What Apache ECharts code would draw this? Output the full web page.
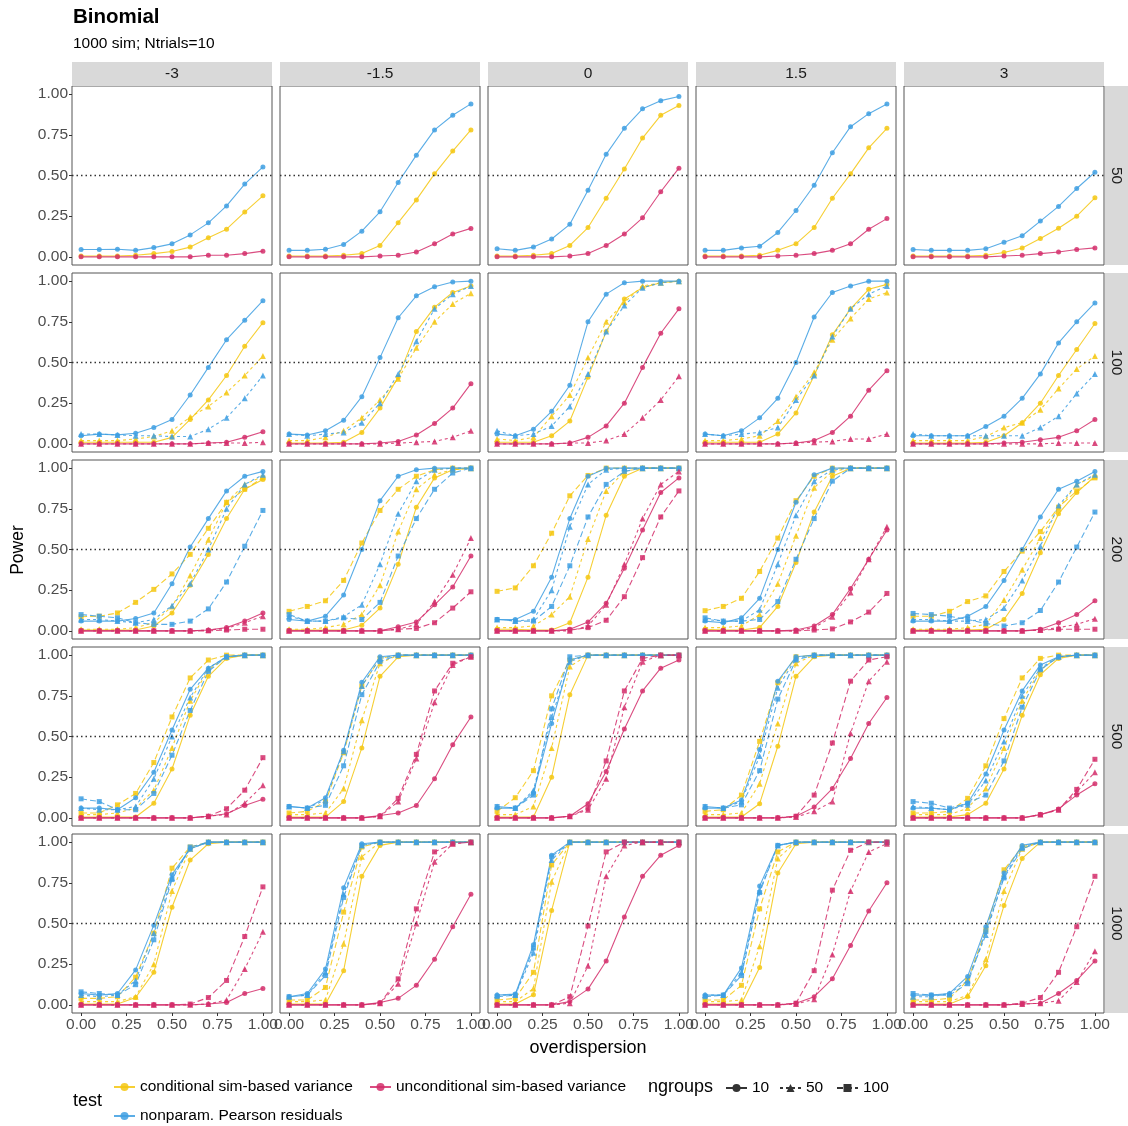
<!DOCTYPE html>
<html>
<head>
<meta charset="utf-8">
<script src="https://cdn.jsdelivr.net/npm/echarts@6/dist/echarts.min.js"></script>
<style>
html, body { margin: 0; padding: 0; background: #fff; }
#chart { width: 1128px; height: 1126px; }
</style>
</head>
<body>
<div id="chart"></div>
<script>
// x values of every curve, facet levels
const overdispersion = [0, 0.1, 0.2, 0.3, 0.4, 0.5, 0.6, 0.7, 0.8, 0.9, 1.0]
const thetaLevels = ['-3', '-1.5', '0', '1.5', '3']
const nLevels = ['50', '100', '200', '500', '1000']
const tickValues = [0, 0.25, 0.5, 0.75, 1]

// each array: one list of power values per column (theta = -3, -1.5, 0, 1.5, 3)
// ---- n = 50
const cond_g10_n50 = [
  [0.005, 0.005, 0.005, 0.01, 0.02, 0.033, 0.06, 0.117, 0.17, 0.275, 0.375],
  [0.005, 0.005, 0.005, 0.01, 0.02, 0.07, 0.21, 0.35, 0.51, 0.65, 0.78],
  [0.005, 0.005, 0.01, 0.02, 0.07, 0.18, 0.36, 0.54, 0.73, 0.87, 0.93],
  [0.005, 0.005, 0.005, 0.01, 0.04, 0.08, 0.18, 0.36, 0.51, 0.67, 0.79],
  [0.005, 0.005, 0.005, 0.005, 0.01, 0.027, 0.055, 0.113, 0.176, 0.25, 0.363]
]
const uncond_g10_n50 = [
  [0, 0, 0, 0, 0, 0, 0, 0.01, 0.01, 0.02, 0.035],
  [0, 0, 0, 0, 0, 0.005, 0.01, 0.03, 0.08, 0.14, 0.175],
  [0, 0, 0, 0, 0.005, 0.02, 0.07, 0.14, 0.24, 0.4, 0.545],
  [0, 0, 0, 0, 0.005, 0.01, 0.02, 0.04, 0.08, 0.17, 0.235],
  [0, 0, 0, 0, 0, 0.005, 0.01, 0.02, 0.03, 0.045, 0.055]
]
const nonpar_g10_n50 = [
  [0.045, 0.045, 0.047, 0.04, 0.057, 0.08, 0.135, 0.209, 0.313, 0.447, 0.553],
  [0.04, 0.04, 0.047, 0.076, 0.158, 0.277, 0.457, 0.625, 0.78, 0.87, 0.94],
  [0.05, 0.04, 0.06, 0.11, 0.2, 0.41, 0.63, 0.79, 0.91, 0.96, 0.985],
  [0.04, 0.04, 0.055, 0.065, 0.15, 0.285, 0.44, 0.64, 0.8, 0.88, 0.94],
  [0.045, 0.04, 0.04, 0.04, 0.05, 0.09, 0.13, 0.22, 0.31, 0.42, 0.52]
]
// ---- n = 100
const cond_g10_n100 = [
  [0.01, 0.01, 0.01, 0.01, 0.01, 0.04, 0.15, 0.27, 0.42, 0.6, 0.745],
  [0.005, 0.005, 0.005, 0.01, 0.07, 0.22, 0.41, 0.69, 0.84, 0.93, 0.97],
  [0.01, 0.01, 0.01, 0.05, 0.14, 0.41, 0.69, 0.89, 0.96, 0.99, 1],
  [0.01, 0.01, 0.01, 0.01, 0.06, 0.19, 0.42, 0.67, 0.83, 0.95, 0.98],
  [0.005, 0.005, 0.005, 0.005, 0.01, 0.05, 0.13, 0.25, 0.42, 0.58, 0.74]
]
const cond_g50_n100 = [
  [0.02, 0.02, 0.02, 0.03, 0.045, 0.08, 0.165, 0.23, 0.315, 0.42, 0.54],
  [0.02, 0.02, 0.04, 0.08, 0.16, 0.27, 0.4, 0.59, 0.75, 0.86, 0.925],
  [0.03, 0.02, 0.04, 0.17, 0.3, 0.53, 0.75, 0.87, 0.97, 0.99, 1],
  [0.02, 0.02, 0.03, 0.05, 0.14, 0.29, 0.44, 0.64, 0.77, 0.89, 0.93],
  [0.02, 0.02, 0.02, 0.02, 0.045, 0.1, 0.13, 0.21, 0.34, 0.46, 0.54]
]
const uncond_g10_n100 = [
  [0, 0, 0, 0, 0, 0, 0, 0.005, 0.01, 0.04, 0.075],
  [0, 0, 0, 0, 0, 0.005, 0.015, 0.055, 0.125, 0.22, 0.37],
  [0, 0, 0, 0, 0.005, 0.04, 0.11, 0.25, 0.47, 0.68, 0.83],
  [0, 0, 0, 0, 0, 0.005, 0.02, 0.07, 0.17, 0.33, 0.45],
  [0, 0, 0, 0, 0, 0.005, 0.01, 0.025, 0.04, 0.08, 0.15]
]
const uncond_g50_n100 = [
  [0, 0, 0, 0, 0, 0, 0, 0.005, 0.005, 0.005, 0.01],
  [0, 0, 0, 0, 0, 0, 0.005, 0.01, 0.015, 0.04, 0.08],
  [0, 0, 0, 0, 0.005, 0.005, 0.02, 0.06, 0.16, 0.27, 0.415],
  [0, 0, 0, 0, 0, 0.005, 0.01, 0.015, 0.03, 0.03, 0.06],
  [0, 0, 0, 0, 0, 0, 0, 0, 0.005, 0.005, 0.005]
]
const nonpar_g10_n100 = [
  [0.05, 0.06, 0.055, 0.065, 0.1, 0.15, 0.3, 0.47, 0.64, 0.76, 0.88],
  [0.06, 0.055, 0.08, 0.145, 0.29, 0.53, 0.775, 0.91, 0.965, 0.995, 1],
  [0.06, 0.05, 0.09, 0.2, 0.36, 0.75, 0.92, 0.99, 1, 1, 1],
  [0.06, 0.05, 0.08, 0.16, 0.28, 0.5, 0.78, 0.93, 0.97, 1, 1],
  [0.05, 0.05, 0.05, 0.05, 0.107, 0.17, 0.28, 0.43, 0.62, 0.75, 0.866]
]
const nonpar_g50_n100 = [
  [0.06, 0.06, 0.055, 0.05, 0.05, 0.045, 0.045, 0.09, 0.16, 0.28, 0.42],
  [0.06, 0.05, 0.06, 0.07, 0.13, 0.25, 0.43, 0.63, 0.83, 0.92, 0.97],
  [0.08, 0.05, 0.06, 0.11, 0.23, 0.43, 0.69, 0.85, 0.96, 0.99, 1],
  [0.06, 0.05, 0.06, 0.07, 0.1, 0.27, 0.42, 0.66, 0.83, 0.92, 0.97],
  [0.06, 0.05, 0.05, 0.05, 0.05, 0.05, 0.05, 0.1, 0.17, 0.31, 0.43]
]
// ---- n = 200
const cond_g10_n200 = [
  [0.005, 0.005, 0.005, 0.005, 0.03, 0.11, 0.28, 0.47, 0.69, 0.87, 0.93],
  [0.005, 0.005, 0.005, 0.005, 0.035, 0.14, 0.41, 0.76, 0.94, 0.99, 1],
  [0.01, 0.01, 0.005, 0.005, 0.05, 0.33, 0.71, 0.95, 1, 1, 1],
  [0.01, 0.005, 0.005, 0.02, 0.15, 0.42, 0.73, 0.95, 1, 1, 1],
  [0.005, 0.005, 0.005, 0.005, 0.01, 0.07, 0.23, 0.48, 0.72, 0.85, 0.95]
]
const cond_g50_n200 = [
  [0.01, 0.01, 0.01, 0.02, 0.05, 0.15, 0.34, 0.56, 0.79, 0.9, 0.95],
  [0.01, 0.01, 0.02, 0.04, 0.1, 0.28, 0.61, 0.87, 0.96, 0.99, 1],
  [0.02, 0.02, 0.03, 0.1, 0.21, 0.565, 0.86, 0.98, 1, 1, 1],
  [0.02, 0.02, 0.03, 0.1, 0.29, 0.585, 0.88, 0.98, 1, 1, 1],
  [0.01, 0.01, 0.01, 0.02, 0.04, 0.19, 0.375, 0.57, 0.75, 0.9, 0.95]
]
const cond_g100_n200 = [
  [0.087, 0.09, 0.11, 0.175, 0.255, 0.35, 0.47, 0.63, 0.79, 0.87, 0.94],
  [0.12, 0.15, 0.185, 0.31, 0.54, 0.74, 0.87, 0.95, 0.99, 1, 1],
  [0.243, 0.264, 0.4, 0.6, 0.83, 0.955, 1, 1, 1, 1, 1],
  [0.124, 0.15, 0.2, 0.365, 0.57, 0.8, 0.95, 1, 1, 1, 1],
  [0.09, 0.09, 0.12, 0.18, 0.215, 0.365, 0.49, 0.61, 0.76, 0.86, 0.94]
]
const uncond_g10_n200 = [
  [0, 0, 0, 0, 0, 0, 0, 0.005, 0.02, 0.06, 0.11],
  [0, 0, 0, 0, 0, 0, 0.025, 0.055, 0.16, 0.27, 0.46],
  [0, 0, 0, 0, 0.01, 0.054, 0.17, 0.385, 0.62, 0.85, 0.94],
  [0, 0, 0, 0, 0, 0.005, 0.03, 0.1, 0.26, 0.44, 0.62],
  [0, 0, 0, 0, 0, 0, 0, 0.01, 0.05, 0.1, 0.185]
]
const uncond_g50_n200 = [
  [0, 0, 0, 0, 0, 0, 0, 0.005, 0.015, 0.05, 0.09],
  [0, 0, 0, 0, 0, 0, 0.01, 0.04, 0.18, 0.345, 0.57],
  [0, 0, 0, 0, 0, 0.03, 0.16, 0.41, 0.69, 0.9, 0.98],
  [0, 0, 0, 0, 0, 0, 0.02, 0.087, 0.235, 0.44, 0.64],
  [0, 0, 0, 0, 0, 0, 0, 0.005, 0.02, 0.04, 0.075]
]
const uncond_g100_n200 = [
  [0, 0, 0, 0, 0, 0, 0, 0, 0.005, 0.01, 0.01],
  [0, 0, 0, 0, 0, 0, 0.01, 0.015, 0.05, 0.14, 0.24],
  [0, 0, 0, 0, 0.005, 0.02, 0.065, 0.21, 0.45, 0.7, 0.86],
  [0, 0, 0, 0, 0, 0, 0.005, 0.012, 0.055, 0.115, 0.23],
  [0, 0, 0, 0, 0, 0, 0, 0.005, 0.01, 0.01, 0.01]
]
const nonpar_g10_n200 = [
  [0.06, 0.06, 0.06, 0.076, 0.11, 0.29, 0.515, 0.69, 0.86, 0.95, 0.98],
  [0.07, 0.06, 0.09, 0.22, 0.5, 0.8, 0.95, 0.99, 1, 1, 1],
  [0.07, 0.07, 0.12, 0.33, 0.69, 0.95, 1, 1, 1, 1, 1],
  [0.06, 0.05, 0.08, 0.2, 0.5, 0.79, 0.96, 1, 1, 1, 1],
  [0.06, 0.06, 0.06, 0.09, 0.15, 0.31, 0.5, 0.7, 0.87, 0.92, 0.98]
]
const nonpar_g50_n200 = [
  [0.07, 0.07, 0.06, 0.05, 0.07, 0.155, 0.29, 0.5, 0.75, 0.9, 0.96],
  [0.09, 0.06, 0.06, 0.087, 0.16, 0.41, 0.72, 0.92, 0.99, 1, 1],
  [0.07, 0.06, 0.07, 0.25, 0.64, 0.9, 0.99, 1, 1, 1, 1],
  [0.07, 0.06, 0.06, 0.13, 0.41, 0.71, 0.92, 0.99, 1, 1, 1],
  [0.07, 0.07, 0.06, 0.06, 0.07, 0.14, 0.31, 0.52, 0.77, 0.9, 0.96]
]
const nonpar_g100_n200 = [
  [0.1, 0.09, 0.08, 0.05, 0.04, 0.04, 0.06, 0.135, 0.3, 0.52, 0.74],
  [0.1, 0.06, 0.06, 0.08, 0.07, 0.175, 0.46, 0.69, 0.87, 0.97, 1],
  [0.07, 0.06, 0.06, 0.15, 0.4, 0.7, 0.9, 0.98, 1, 1, 1],
  [0.08, 0.06, 0.06, 0.07, 0.18, 0.44, 0.69, 0.92, 1, 1, 1],
  [0.107, 0.1, 0.09, 0.07, 0.045, 0.03, 0.05, 0.125, 0.3, 0.515, 0.73]
]
// ---- n = 500
const cond_g10_n500 = [
  [0.005, 0.005, 0.005, 0.005, 0.09, 0.3, 0.63, 0.87, 0.98, 1, 1],
  [0.005, 0.005, 0.005, 0.1, 0.43, 0.87, 0.99, 1, 1, 1, 1],
  [0.005, 0.005, 0.005, 0.25, 0.757, 1, 1, 1, 1, 1, 1],
  [0.005, 0.005, 0.005, 0.087, 0.44, 0.87, 0.99, 1, 1, 1, 1],
  [0.005, 0.005, 0.005, 0.02, 0.09, 0.3, 0.63, 0.88, 0.98, 1, 1]
]
const cond_g50_n500 = [
  [0.02, 0.02, 0.03, 0.06, 0.17, 0.43, 0.72, 0.91, 0.99, 1, 1],
  [0.02, 0.02, 0.03, 0.18, 0.6, 0.95, 1, 1, 1, 1, 1],
  [0.02, 0.02, 0.07, 0.43, 0.93, 1, 1, 1, 1, 1, 1],
  [0.02, 0.02, 0.03, 0.21, 0.58, 0.95, 1, 1, 1, 1, 1],
  [0.02, 0.02, 0.02, 0.06, 0.18, 0.43, 0.72, 0.91, 0.99, 1, 1]
]
const cond_g100_n500 = [
  [0.03, 0.03, 0.08, 0.15, 0.34, 0.62, 0.86, 0.97, 1, 1, 1],
  [0.03, 0.04, 0.1, 0.4, 0.81, 0.98, 1, 1, 1, 1, 1],
  [0.04, 0.124, 0.29, 0.75, 0.97, 1, 1, 1, 1, 1, 1],
  [0.04, 0.05, 0.14, 0.47, 0.83, 0.99, 1, 1, 1, 1, 1],
  [0.03, 0.03, 0.04, 0.12, 0.32, 0.61, 0.86, 0.98, 1, 1, 1]
]
const uncond_g10_n500 = [
  [0, 0, 0, 0, 0, 0, 0, 0.01, 0.025, 0.076, 0.115],
  [0, 0, 0, 0, 0, 0.015, 0.03, 0.076, 0.24, 0.45, 0.62],
  [0, 0, 0, 0, 0.01, 0.087, 0.285, 0.546, 0.78, 0.92, 0.97],
  [0, 0, 0, 0, 0, 0.01, 0.066, 0.18, 0.365, 0.58, 0.74],
  [0, 0, 0, 0, 0, 0, 0, 0.02, 0.055, 0.14, 0.21]
]
const uncond_g50_n500 = [
  [0, 0, 0, 0, 0, 0, 0, 0.01, 0.02, 0.09, 0.2],
  [0, 0, 0, 0, 0, 0.01, 0.1, 0.365, 0.71, 0.94, 0.99],
  [0, 0, 0, 0, 0.01, 0.05, 0.24, 0.68, 0.96, 1, 1],
  [0, 0, 0, 0, 0, 0.005, 0.04, 0.1, 0.52, 0.84, 0.96],
  [0, 0, 0, 0, 0, 0, 0, 0.02, 0.05, 0.16, 0.28]
]
const uncond_g100_n500 = [
  [0, 0, 0, 0, 0, 0, 0, 0.01, 0.056, 0.17, 0.37],
  [0, 0, 0, 0, 0, 0.01, 0.12, 0.39, 0.78, 0.95, 0.99],
  [0, 0, 0, 0, 0.01, 0.06, 0.35, 0.78, 0.98, 1, 1],
  [0, 0, 0, 0, 0, 0.01, 0.14, 0.46, 0.84, 0.97, 0.99],
  [0, 0, 0, 0, 0, 0, 0, 0.02, 0.05, 0.175, 0.36]
]
const nonpar_g10_n500 = [
  [0.06, 0.06, 0.05, 0.124, 0.28, 0.54, 0.79, 0.92, 0.99, 1, 1],
  [0.07, 0.06, 0.124, 0.416, 0.833, 0.99, 1, 1, 1, 1, 1],
  [0.06, 0.06, 0.155, 0.58, 0.97, 1, 1, 1, 1, 1, 1],
  [0.06, 0.06, 0.11, 0.42, 0.84, 0.99, 1, 1, 1, 1, 1],
  [0.06, 0.06, 0.05, 0.09, 0.27, 0.54, 0.78, 0.94, 0.99, 1, 1]
]
const nonpar_g50_n500 = [
  [0.06, 0.05, 0.05, 0.07, 0.24, 0.5, 0.74, 0.92, 0.99, 1, 1],
  [0.07, 0.06, 0.11, 0.41, 0.81, 0.98, 1, 1, 1, 1, 1],
  [0.07, 0.06, 0.17, 0.62, 0.96, 1, 1, 1, 1, 1, 1],
  [0.07, 0.06, 0.1, 0.38, 0.8, 0.98, 1, 1, 1, 1, 1],
  [0.07, 0.06, 0.05, 0.08, 0.23, 0.47, 0.75, 0.92, 0.99, 1, 1]
]
const nonpar_g100_n500 = [
  [0.117, 0.1, 0.05, 0.05, 0.15, 0.385, 0.66, 0.9, 0.99, 1, 1],
  [0.07, 0.06, 0.077, 0.32, 0.757, 0.96, 1, 1, 1, 1, 1],
  [0.07, 0.06, 0.14, 0.67, 0.99, 1, 1, 1, 1, 1, 1],
  [0.07, 0.06, 0.08, 0.29, 0.73, 0.97, 1, 1, 1, 1, 1],
  [0.1, 0.09, 0.06, 0.09, 0.14, 0.35, 0.68, 0.91, 0.99, 1, 1]
]
// ---- n = 1000
const cond_g10_n1000 = [
  [0.005, 0.005, 0.005, 0.045, 0.2, 0.6, 0.89, 0.99, 1, 1, 1],
  [0.005, 0.005, 0.005, 0.21, 0.79, 0.98, 1, 1, 1, 1, 1],
  [0.005, 0.005, 0.062, 0.58, 1, 1, 1, 1, 1, 1, 1],
  [0.005, 0.005, 0.005, 0.23, 0.81, 0.99, 1, 1, 1, 1, 1],
  [0.005, 0.005, 0.005, 0.05, 0.24, 0.61, 0.9, 1, 1, 1, 1]
]
const cond_g50_n1000 = [
  [0.02, 0.02, 0.02, 0.05, 0.25, 0.7, 0.96, 1, 1, 1, 1],
  [0.02, 0.02, 0.03, 0.375, 0.91, 1, 1, 1, 1, 1, 1],
  [0.02, 0.02, 0.1, 0.757, 1, 1, 1, 1, 1, 1, 1],
  [0.02, 0.02, 0.03, 0.36, 0.9, 1, 1, 1, 1, 1, 1],
  [0.02, 0.02, 0.02, 0.06, 0.28, 0.7, 0.96, 1, 1, 1, 1]
]
const cond_g100_n1000 = [
  [0.04, 0.04, 0.05, 0.17, 0.44, 0.84, 0.97, 1, 1, 1, 1],
  [0.03, 0.03, 0.107, 0.57, 0.97, 1, 1, 1, 1, 1, 1],
  [0.03, 0.04, 0.2, 0.86, 1, 1, 1, 1, 1, 1, 1],
  [0.03, 0.03, 0.12, 0.59, 0.94, 1, 1, 1, 1, 1, 1],
  [0.03, 0.03, 0.04, 0.15, 0.46, 0.83, 0.97, 1, 1, 1, 1]
]
const uncond_g10_n1000 = [
  [0, 0, 0, 0, 0, 0, 0, 0.005, 0.015, 0.07, 0.1],
  [0, 0, 0, 0, 0, 0.014, 0.04, 0.12, 0.28, 0.48, 0.68],
  [0, 0, 0, 0, 0.02, 0.097, 0.27, 0.54, 0.79, 0.92, 0.98],
  [0, 0, 0, 0, 0, 0.01, 0.05, 0.16, 0.365, 0.577, 0.75],
  [0, 0, 0, 0, 0, 0, 0.005, 0.01, 0.07, 0.15, 0.27]
]
const uncond_g50_n1000 = [
  [0, 0, 0, 0, 0, 0, 0, 0.005, 0.03, 0.22, 0.45],
  [0, 0, 0, 0, 0, 0.01, 0.13, 0.5, 0.88, 0.99, 1],
  [0, 0, 0, 0, 0.01, 0.24, 0.79, 0.98, 1, 1, 1],
  [0, 0, 0, 0, 0, 0.005, 0.035, 0.31, 0.7, 0.94, 0.99],
  [0, 0, 0, 0, 0, 0, 0.005, 0.01, 0.025, 0.14, 0.33]
]
const uncond_g100_n1000 = [
  [0, 0, 0, 0, 0, 0, 0.005, 0.045, 0.15, 0.42, 0.725],
  [0, 0, 0, 0, 0, 0.01, 0.16, 0.59, 0.94, 0.99, 1],
  [0, 0, 0, 0, 0.05, 0.485, 0.94, 1, 1, 1, 1],
  [0, 0, 0, 0, 0, 0.01, 0.21, 0.705, 0.95, 1, 1],
  [0, 0, 0, 0, 0, 0, 0.01, 0.045, 0.2, 0.48, 0.79]
]
const nonpar_g10_n1000 = [
  [0.07, 0.06, 0.07, 0.215, 0.49, 0.8, 0.96, 1, 1, 1, 1],
  [0.05, 0.07, 0.22, 0.72, 0.99, 1, 1, 1, 1, 1, 1],
  [0.06, 0.066, 0.37, 0.92, 1, 1, 1, 1, 1, 1, 1],
  [0.06, 0.06, 0.227, 0.73, 0.98, 1, 1, 1, 1, 1, 1],
  [0.06, 0.06, 0.07, 0.175, 0.48, 0.81, 0.98, 1, 1, 1, 1]
]
const nonpar_g50_n1000 = [
  [0.06, 0.05, 0.06, 0.15, 0.44, 0.78, 0.96, 1, 1, 1, 1],
  [0.05, 0.06, 0.2, 0.68, 0.98, 1, 1, 1, 1, 1, 1],
  [0.06, 0.06, 0.32, 0.89, 1, 1, 1, 1, 1, 1, 1],
  [0.06, 0.06, 0.2, 0.7, 0.98, 1, 1, 1, 1, 1, 1],
  [0.05, 0.05, 0.07, 0.15, 0.43, 0.79, 0.97, 1, 1, 1, 1]
]
const nonpar_g100_n1000 = [
  [0.08, 0.07, 0.06, 0.124, 0.4, 0.77, 0.97, 1, 1, 1, 1],
  [0.05, 0.06, 0.18, 0.66, 0.98, 1, 1, 1, 1, 1, 1],
  [0.05, 0.06, 0.35, 0.91, 1, 1, 1, 1, 1, 1, 1],
  [0.05, 0.06, 0.18, 0.69, 0.98, 1, 1, 1, 1, 1, 1],
  [0.07, 0.06, 0.06, 0.13, 0.45, 0.78, 0.96, 1, 1, 1, 1]
]

// rows are n = 50 .. 1000 ; null where that ngroups is not simulated
const powerTable = {
  cond: {
    '10': [cond_g10_n50, cond_g10_n100, cond_g10_n200, cond_g10_n500, cond_g10_n1000],
    '50': [null, cond_g50_n100, cond_g50_n200, cond_g50_n500, cond_g50_n1000],
    '100': [null, null, cond_g100_n200, cond_g100_n500, cond_g100_n1000]
  },
  nonpar: {
    '10': [nonpar_g10_n50, nonpar_g10_n100, nonpar_g10_n200, nonpar_g10_n500, nonpar_g10_n1000],
    '50': [null, nonpar_g50_n100, nonpar_g50_n200, nonpar_g50_n500, nonpar_g50_n1000],
    '100': [null, null, nonpar_g100_n200, nonpar_g100_n500, nonpar_g100_n1000]
  },
  uncond: {
    '10': [uncond_g10_n50, uncond_g10_n100, uncond_g10_n200, uncond_g10_n500, uncond_g10_n1000],
    '50': [null, uncond_g50_n100, uncond_g50_n200, uncond_g50_n500, uncond_g50_n1000],
    '100': [null, null, uncond_g100_n200, uncond_g100_n500, uncond_g100_n1000]
  }
}

const FONT = '"Liberation Sans", Arial, Helvetica, sans-serif'
const tests = [
  { key: 'cond', name: 'conditional sim-based variance', color: '#F5C710' },
  { key: 'nonpar', name: 'nonparam. Pearson residuals', color: '#3E9FE2' },
  { key: 'uncond', name: 'unconditional sim-based variance', color: '#D42E6B' }
]
const groups = [
  { key: '10', symbol: 'circle', size: 5, dash: 'solid' },
  { key: '50', symbol: 'triangle', size: 6, dash: [3, 3] },
  { key: '100', symbol: 'rect', size: 5, dash: [6, 3] }
]

const panelLeft = 72
const panelTop = 86
const panelW = 200
const panelH = 179
const stepX = 208
const stepY = 187

const grids = []
const xAxes = []
const yAxes = []
const series = []
const graphics = []

nLevels.forEach((n, r) => {
  thetaLevels.forEach((theta, c) => {
    const idx = r * thetaLevels.length + c
    grids.push({
      left: panelLeft + c * stepX,
      top: panelTop + r * stepY,
      width: panelW,
      height: panelH,
      show: true,
      borderColor: '#555',
      borderWidth: 1,
      backgroundColor: '#fff'
    })
    const bottomRow = r === nLevels.length - 1
    const firstCol = c === 0
    xAxes.push({
      type: 'value', gridIndex: idx, min: -0.05, max: 1.05, position: 'bottom',
      axisLine: { show: false, onZero: false },
      splitLine: { show: false },
      axisTick: { show: bottomRow, inside: false, length: 3, lineStyle: { color: '#333' }, customValues: tickValues },
      axisLabel: {
        show: bottomRow, customValues: tickValues, margin: 4,
        color: '#4d4d4d', fontSize: 15.5, fontFamily: FONT,
        formatter: v => v.toFixed(2)
      }
    })
    yAxes.push({
      type: 'value', gridIndex: idx, min: -0.05, max: 1.05, position: 'left',
      axisLine: { show: false, onZero: false },
      splitLine: { show: false },
      axisTick: { show: firstCol, inside: false, length: 3, lineStyle: { color: '#333' }, customValues: tickValues },
      axisLabel: {
        show: firstCol, customValues: tickValues, margin: 4,
        color: '#4d4d4d', fontSize: 15.5, fontFamily: FONT,
        formatter: v => v.toFixed(2)
      }
    })
    let first = true
    tests.forEach(t => {
      groups.forEach(g => {
        const rowData = powerTable[t.key][g.key][r]
        if (!rowData) return
        const vals = rowData[c]
        const s = {
          type: 'line',
          name: t.name,
          xAxisIndex: idx,
          yAxisIndex: idx,
          data: overdispersion.map((x, i) => [x, vals[i]]),
          symbol: g.symbol,
          symbolSize: g.size,
          showSymbol: true,
          color: t.color,
          lineStyle: { width: 1.1, type: g.dash, color: t.color, opacity: 0.85 },
          itemStyle: { color: t.color, opacity: 0.85 },
          emphasis: { disabled: true },
          silent: true,
          animation: false
        }
        if (first) {
          s.markLine = {
            silent: true, symbol: 'none', animation: false,
            label: { show: false },
            lineStyle: { type: [1.5, 3], color: '#333', width: 1.3, opacity: 1 },
            data: [{ yAxis: 0.5 }]
          }
          first = false
        }
        series.push(s)
      })
    })
    // facet strips
    if (r === 0) {
      graphics.push({
        type: 'rect', left: panelLeft + c * stepX, top: 62,
        shape: { width: panelW, height: 24 }, style: { fill: '#d9d9d9' }, silent: true
      })
      graphics.push({
        type: 'text', x: panelLeft + c * stepX + panelW / 2, y: 74,
        style: { text: theta, fill: '#1a1a1a', font: '15.5px ' + FONT, align: 'center', verticalAlign: 'middle' }
      })
    }
  })
  graphics.push({
    type: 'rect', left: 1105, top: panelTop + r * stepY,
    shape: { width: 23, height: panelH }, style: { fill: '#d9d9d9' }, silent: true
  })
  graphics.push({
    type: 'text', x: 1116, y: panelTop + r * stepY + panelH / 2, rotation: -Math.PI / 2,
    style: { text: n, fill: '#1a1a1a', font: '15.5px ' + FONT, align: 'center', verticalAlign: 'middle' }
  })
})

// black keys for the ngroups legend
groups.forEach(g => {
  series.push({
    type: 'line', name: g.key, xAxisIndex: 0, yAxisIndex: 0, data: [],
    symbol: g.symbol, symbolSize: g.size, color: '#333',
    lineStyle: { width: 1.1, type: g.dash, color: '#333' },
    itemStyle: { color: '#333' }
  })
})

graphics.push(
  { type: 'text', x: 73, y: 17, style: { text: 'Binomial', fill: '#000', font: 'bold 20.5px ' + FONT, verticalAlign: 'middle' } },
  { type: 'text', x: 73, y: 44, style: { text: '1000 sim; Ntrials=10', fill: '#000', font: '15.5px ' + FONT, verticalAlign: 'middle' } },
  { type: 'text', x: 18, y: 550, rotation: Math.PI / 2, style: { text: 'Power', fill: '#000', font: '17.5px ' + FONT, align: 'center', verticalAlign: 'middle' } },
  { type: 'text', x: 588, y: 1048, style: { text: 'overdispersion', fill: '#000', font: '18px ' + FONT, align: 'center', verticalAlign: 'middle' } },
  { type: 'text', x: 73, y: 1101, style: { text: 'test', fill: '#000', font: '18px ' + FONT, verticalAlign: 'middle' } },
  { type: 'text', x: 648, y: 1087, style: { text: 'ngroups', fill: '#000', font: '18px ' + FONT, verticalAlign: 'middle' } }
)

function legendAt(name, left, top) {
  return {
    data: [name], left: left, top: top, orient: 'horizontal', padding: 0,
    itemWidth: 21, itemHeight: 10, itemGap: 6, selectedMode: false,
    textStyle: { color: '#000', fontSize: 15.5, fontFamily: FONT }
  }
}

const option = {
  animation: false,
  grid: grids,
  xAxis: xAxes,
  yAxis: yAxes,
  series: series,
  graphic: graphics,
  legend: [
    legendAt(tests[0].name, 113, 1079),
    legendAt(tests[2].name, 369, 1079),
    legendAt(tests[1].name, 113, 1108),
    legendAt('10', 725, 1080),
    legendAt('50', 779, 1080),
    legendAt('100', 836, 1080)
  ]
}

const chart = echarts.init(document.getElementById('chart'), null, { renderer: 'canvas' })
chart.setOption(option)
</script>
</body>
</html>
